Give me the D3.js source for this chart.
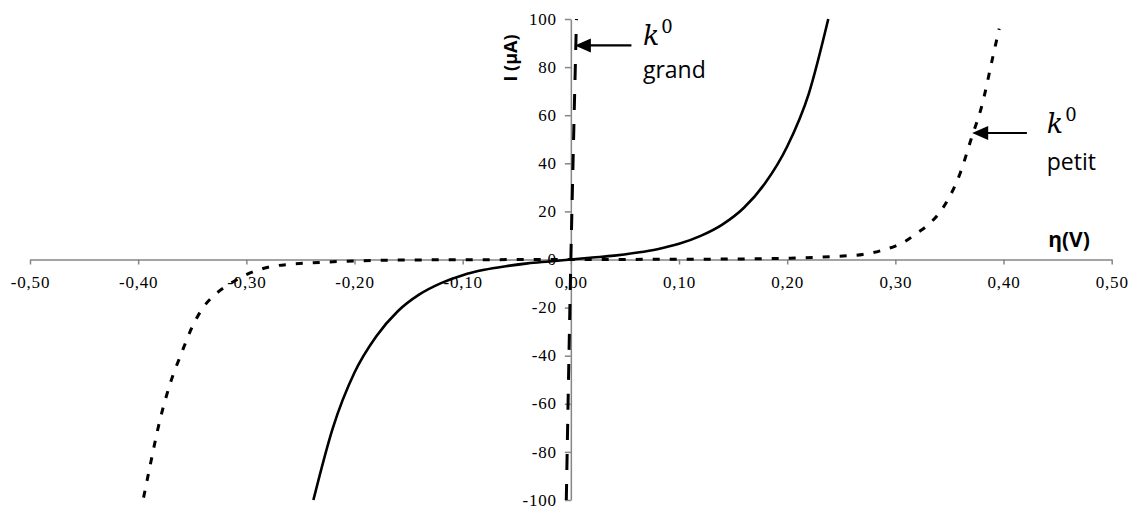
<!DOCTYPE html>
<html>
<head>
<meta charset="utf-8">
<script src="https://cdnjs.cloudflare.com/ajax/libs/d3/7.8.5/d3.min.js"></script>
<style>
  body { margin: 0; background: #fff; }
  svg { display: block; }
</style>
</head>
<body>
<svg id="chart" width="1134" height="508"></svg>
<script>

// ticks
var xTicks = [-0.5, -0.4, -0.3, -0.2, -0.1, 0, 0.1, 0.2, 0.3, 0.4, 0.5];
var yTicks = [-100, -80, -60, -40, -20, 0, 20, 40, 60, 80, 100];

// k0 moyen (trait plein)
var etaSolid = [-0.238, -0.22, -0.20, -0.18, -0.16, -0.14, -0.12, -0.10, -0.08, -0.06, -0.04, -0.02, 0,
                0.02, 0.04, 0.06, 0.08, 0.10, 0.12, 0.14, 0.16, 0.18, 0.20, 0.22, 0.238];
var iSolid = [-100, -70, -47, -32, -21.5, -14.5, -9.8, -6.5, -4.3, -2.8, -1.6, -0.8, 0,
              0.8, 1.6, 2.8, 4.3, 6.5, 9.8, 14.5, 21.5, 32, 47, 69, 100];

// k0 petit (pointillés)
var etaDot = [-0.395, -0.39, -0.38, -0.37, -0.36, -0.35, -0.34, -0.33, -0.32, -0.31, -0.30, -0.29, -0.28,
              -0.26, -0.24, -0.20, -0.15, -0.10, 0, 0.10, 0.15, 0.20, 0.24, 0.27, 0.29, 0.30, 0.31,
              0.32, 0.33, 0.34, 0.35, 0.36, 0.37, 0.38, 0.39, 0.396];
var iDot = [-99, -88, -67, -51, -39, -28, -20, -15, -11.5, -8.7, -6.3, -4.5, -3.2,
            -2.0, -1.4, -0.6, -0.2, -0.1, 0, 0.1, 0.2, 0.5, 1.2, 2.1, 4.1, 5.6, 7.8,
            11, 14.3, 19, 26, 36, 50, 64, 84, 96];

// k0 grand (tirets)
var etaDash = [-0.0042, -0.002, 0, 0.002, 0.0052];
var iDash = [-100, -46, 0, 40, 100];

// annotations : [eta, I] queue -> pointe
var arrowGrand = [[0.056, 89], [0.0037, 89]];
var arrowPetit = [[0.4216, 52.6], [0.371, 52.6]];

var svg = d3.select("#chart");

var x = d3.scaleLinear().domain([-0.5, 0.5]).range([30, 1111.7]);
var y = d3.scaleLinear().domain([-100, 100]).range([500, 19]);

var fmt = function(d){ return d3.format(".2f")(d).replace(".", ",").replace("−", "-"); };
var serif = "'Liberation Serif', 'Times New Roman', serif";

//axe x (traverse en I = 0)
var xAxis = svg.append("g")
    .attr("transform", "translate(0," + y(0) + ")")
    .call(d3.axisBottom(x).tickValues(xTicks).tickSize(5).tickSizeOuter(0).tickFormat(fmt));

//axe y (traverse en eta = 0)
var yAxis = svg.append("g")
    .attr("transform", "translate(" + x(0) + ",0)")
    .call(d3.axisLeft(y).tickValues(yTicks).tickSize(6).tickSizeOuter(0).tickFormat(function(d){ return String(d).replace("−", "-"); }));

[xAxis, yAxis].forEach(function(a){
    a.attr("font-family", serif).attr("font-size", 17);
    a.select(".domain").attr("stroke", "#868686").attr("stroke-width", 1.5);
    a.selectAll(".tick line").attr("stroke", "#868686").attr("stroke-width", 1.5);
    a.selectAll(".tick text")
        .attr("fill", "#000")
        .attr("letter-spacing", 0.8);
});
xAxis.selectAll(".tick text").attr("y", 16).attr("dy", "0.71em");
yAxis.selectAll(".tick text").attr("x", -14).attr("dy", "0.3em");

// titres d'axes
svg.append("text")
    .attr("transform", "translate(517,58) rotate(-90)")
    .attr("text-anchor", "middle")
    .attr("font-family", "'Open Sans', 'Liberation Sans', sans-serif")
    .attr("font-weight", "bold")
    .attr("font-size", 18)
    .text("I (µA)");

svg.append("text")
    .attr("x", 1069).attr("y", 247)
    .attr("text-anchor", "middle")
    .attr("font-family", "'Open Sans', 'Liberation Sans', sans-serif")
    .attr("font-weight", "bold")
    .attr("font-size", 21)
    .text("η(V)");

// courbes
var line = d3.line()
    .x(function(d){ return x(d[0]); })
    .y(function(d){ return y(d[1]); })
    .curve(d3.curveMonotoneX);

var zip = function(a, b){ return a.map(function(v, i){ return [v, b[i]]; }); };

svg.append("path")
    .datum(zip(etaSolid, iSolid))
    .attr("d", line)
    .attr("fill", "none")
    .attr("stroke", "#000")
    .attr("stroke-width", 2.6);

svg.append("path")
    .datum(zip(etaDot, iDot))
    .attr("d", line)
    .attr("fill", "none")
    .attr("stroke", "#000")
    .attr("stroke-width", 3)
    .attr("stroke-dasharray", "7,10");

svg.append("path")
    .datum(zip(etaDash, iDash))
    .attr("d", line)
    .attr("fill", "none")
    .attr("stroke", "#000")
    .attr("stroke-width", 3)
    .attr("stroke-dasharray", "16,14");

// fleches (trait + triangle plein)
[arrowGrand, arrowPetit].forEach(function(a){
    var x1 = x(a[0][0]), y1 = y(a[0][1]), x2 = x(a[1][0]), y2 = y(a[1][1]);
    svg.append("line")
        .attr("x1", x1).attr("y1", y1)
        .attr("x2", x2 + 14).attr("y2", y2)
        .attr("stroke", "#000")
        .attr("stroke-width", 2.2);
    svg.append("path")
        .attr("d", "M" + x2 + "," + y2 + " l16,-7 l0,14 Z")
        .attr("fill", "#000");
});

// etiquettes k0
var labelK = function(eta, I){
    var t = svg.append("text")
        .attr("x", x(eta)).attr("y", y(I))
        .attr("font-family", "'DejaVu Serif', 'Liberation Serif', serif")
        .attr("font-style", "italic")
        .attr("font-size", 27)
        .text("k");
    t.append("tspan")
        .attr("dx", 2).attr("dy", -12)
        .attr("font-style", "normal")
        .attr("font-size", 18)
        .text("0");
};
var labelWord = function(eta, I, txt){
    svg.append("text")
        .attr("x", x(eta)).attr("y", y(I))
        .attr("font-family", "'Open Sans', sans-serif")
        .attr("font-size", 23)
        .text(txt);
};

labelK(0.0666, 89.2);
labelWord(0.0666, 75.5, "grand");
labelK(0.44, 52.6);
labelWord(0.44, 37.2, "petit");

</script>
</body>
</html>
